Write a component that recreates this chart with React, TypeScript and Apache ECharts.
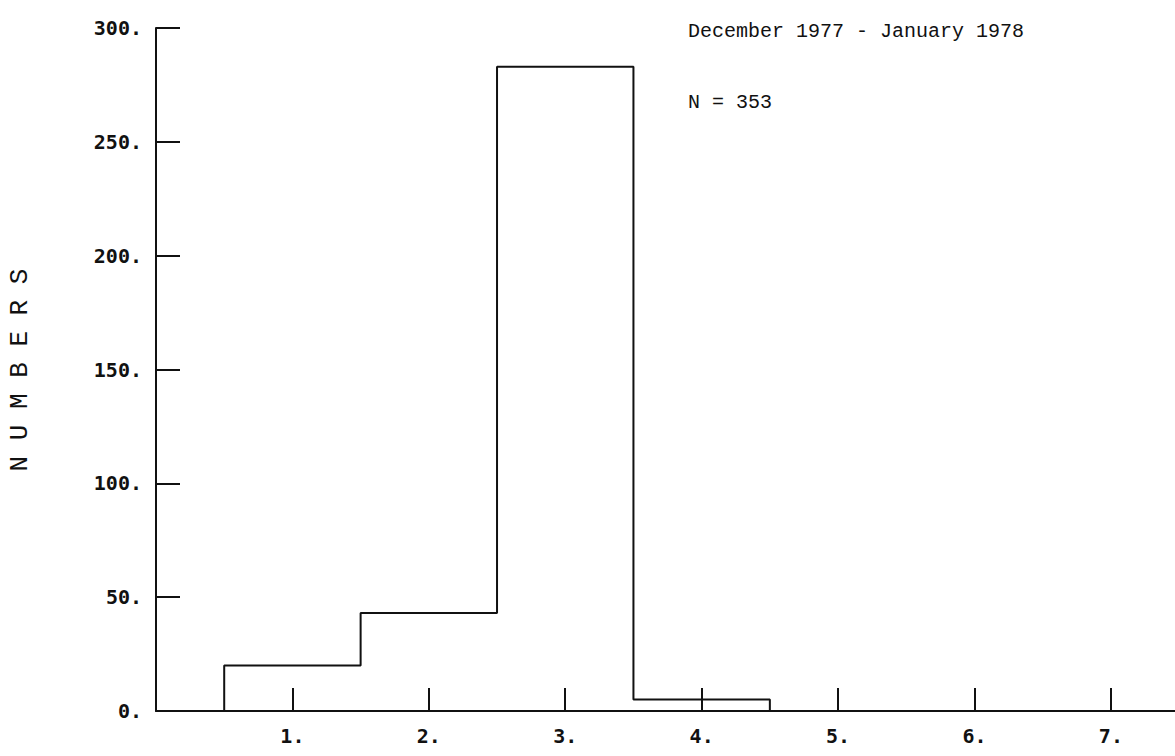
import React, { useEffect, useRef } from "react";
import * as echarts from "echarts";

const binStarts = [0.5, 1.5, 2.5, 3.5];
const binEnds = [1.5, 2.5, 3.5, 4.5];
const counts = [20, 43, 283, 5];
const xTicks = [1, 2, 3, 4, 5, 6, 7];
const yTicks = [0, 50, 100, 150, 200, 250, 300];
const periodLabel = "December 1977 - January 1978";
const nLabel = "N = 353";
const yTitle = "N U M B E R S";

export default function App() {
  const ref = useRef<HTMLDivElement>(null);
  useEffect(() => {
    if (!ref.current) return;
    const chart = echarts.init(ref.current, null, { renderer: "svg" });
    // histogram outline built from bins
    const outline: number[][] = [[binStarts[0], 0]];
    counts.forEach((c, i) => {
      outline.push([binStarts[i], c]);
      outline.push([binEnds[i], c]);
    });
    outline.push([binEnds[binEnds.length - 1], 0]);
    const tickFont = {
      fontFamily: "DejaVu Sans Mono",
      fontSize: 20,
      fontWeight: "bold" as const,
      color: "#111",
    };
    chart.setOption({
      animation: false,
      backgroundColor: "#fff",
      grid: { left: 156, top: 28, width: 1019, height: 683, containLabel: false },
      xAxis: {
        type: "value",
        min: 0,
        max: 7.47,
        interval: 1,
        splitLine: { show: false },
        axisLine: { show: true, lineStyle: { color: "#111", width: 2 } },
        axisTick: {
          show: true,
          inside: true,
          length: 23,
          lineStyle: { color: "#111", width: 2 },
          customValues: xTicks,
        },
        axisLabel: {
          ...tickFont,
          margin: 15,
          customValues: xTicks,
          formatter: (v: number) => `${v}.`,
        },
      },
      yAxis: {
        type: "value",
        min: 0,
        max: 300,
        interval: 50,
        splitLine: { show: false },
        axisLine: { show: true, onZero: false, lineStyle: { color: "#111", width: 2 } },
        axisTick: {
          show: true,
          inside: true,
          length: 24,
          lineStyle: { color: "#111", width: 2 },
          customValues: yTicks,
        },
        axisLabel: {
          ...tickFont,
          margin: 14,
          customValues: yTicks,
          formatter: (v: number) => `${v}.`,
        },
      },
      series: [
        {
          type: "line",
          data: outline,
          showSymbol: false,
          symbol: "none",
          lineStyle: { color: "#111", width: 2 },
          z: 3,
        },
      ],
      graphic: [
        {
          type: "text",
          x: 688,
          y: 31,
          style: {
            text: periodLabel,
            font: '20px "Liberation Mono"',
            fill: "#111",
            verticalAlign: "middle",
          },
        },
        {
          type: "text",
          x: 688,
          y: 102,
          style: {
            text: nLabel,
            font: '20px "Liberation Mono"',
            fill: "#111",
            verticalAlign: "middle",
          },
        },
        {
          type: "text",
          x: 20,
          y: 370,
          rotation: Math.PI / 2,
          style: {
            text: yTitle,
            font: '26px "Liberation Mono"',
            fill: "#111",
            align: "center",
            verticalAlign: "middle",
          },
        },
      ],
    });
    return () => chart.dispose();
  }, []);
  return (
    <div
      ref={ref}
      style={{ position: "fixed", left: 0, top: 0, width: 1175, height: 756 }}
    />
  );
}
